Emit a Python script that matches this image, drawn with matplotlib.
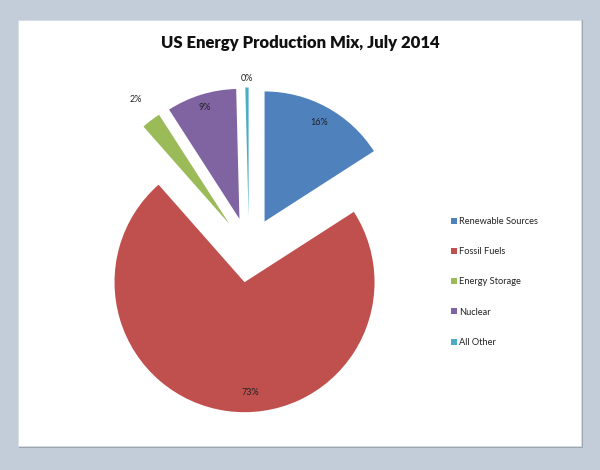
import numpy as np
import matplotlib
matplotlib.use("Agg")
import matplotlib.pyplot as plt
from matplotlib.patches import Rectangle

# --- data (percent of production) ---
sources = ["Renewable Sources", "Fossil Fuels", "Energy Storage", "Nuclear", "All Other"]
shares = [15.9, 72.6, 2.4, 8.7, 0.4]
colors = ["#4F81BD", "#C0504D", "#9BBB59", "#8064A2", "#4BACC6"]
# % label placement: fraction of radius, and angle nudge in degrees
label_dist = [0.87, 0.85, 1.2, 0.9, 1.07]
label_turn = [0, 11, 0, 0, 0]

W, H = 600, 470
fig = plt.figure(figsize=(6.0, 4.7), dpi=100, facecolor="#C3CDDA")

# white chart panel with a faint shadow
fig.patches.append(Rectangle((19 / W, 1 - 448 / H), 564 / W, 428 / H,
                             transform=fig.transFigure, facecolor="#9DA5AE",
                             edgecolor="none", zorder=-2))
fig.patches.append(Rectangle((18 / W, 1 - 446 / H), 563 / W, 426 / H,
                             transform=fig.transFigure, facecolor="white",
                             edgecolor="#D8DEE6", lw=0.6, zorder=-1))

ax = fig.add_axes([0, 0, 1, 1])
ax.patch.set_alpha(0)

R = 130.0  # pie radius in pixels
cx, cy = 249.0, 250.0  # pie centre in pixels, from top-left
wedges, _ = ax.pie(shares, colors=colors, startangle=90, counterclock=False,
                   explode=[0.25] * len(shares), radius=1.0,
                   wedgeprops=dict(linewidth=0))

for w, d, a, s in zip(wedges, label_dist, label_turn, shares):
    mid = np.deg2rad(0.5 * (w.theta1 + w.theta2) + a)
    x0, y0 = w.center
    ax.text(x0 + d * np.cos(mid), y0 + d * np.sin(mid), f"{s:.0f}%",
            ha="center", va="center", fontsize=6.5, color="#222222",
            family="Lato")

ax.set_xlim(-cx / R, (W - cx) / R)
ax.set_ylim(-(H - cy) / R, cy / R)
ax.set_aspect("auto")
ax.axis("off")

fig.text(300 / W, 1 - 43 / H, "US Energy Production Mix, July 2014",
         ha="center", va="center", fontsize=12, fontweight="heavy",
         family="Lato", color="#111111")

leg = fig.legend(wedges, sources, loc="upper left",
                 bbox_to_anchor=(451 / W, 1 - 217 / H), frameon=False,
                 prop=dict(family="Lato", size=6.7), handlelength=0.6,
                 handleheight=0.6, handletextpad=0.3, labelspacing=2.28,
                 borderpad=0, borderaxespad=0)
for t in leg.get_texts():
    t.set_color("#222222")

fig.savefig("out.png", dpi=100, facecolor=fig.get_facecolor())
